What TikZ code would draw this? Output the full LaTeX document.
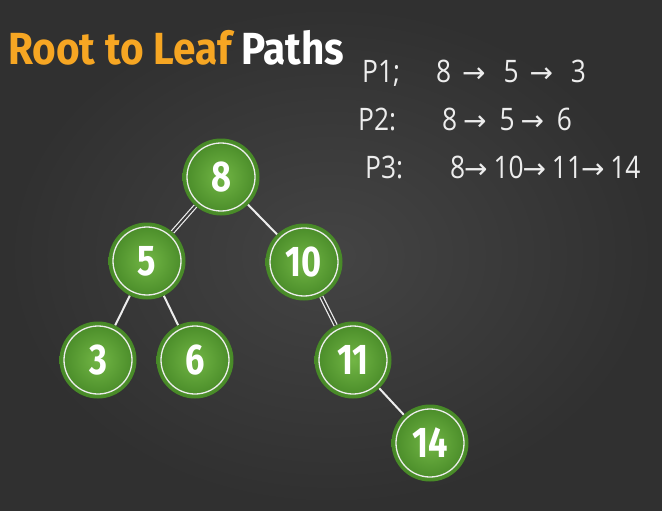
\documentclass[tikz,border=0pt]{standalone}
\usepackage{fontspec}
\setmainfont[FakeStretch=0.85]{Open Sans}
\newfontfamily\titlefont[FakeStretch=0.9]{Fira Sans}
\newfontfamily\numfont[FakeStretch=0.8]{Fira Sans}
\newfontfamily\arrowfont{DejaVu Sans}
\newcommand{\chalkarrow}[1][10pt]{\hspace{#1}{\arrowfont\fontsize{28}{28}\selectfont →}\hspace{#1}}

\definecolor{board}{HTML}{383838}
\definecolor{boardlight}{HTML}{444444}
\definecolor{leafgreen}{HTML}{72B645}
\definecolor{darkgreen}{HTML}{478927}
\definecolor{titleorange}{HTML}{F6A623}
\definecolor{chalk}{HTML}{EDEDED}

\begin{document}
\begin{tikzpicture}[x=1pt,y=-1pt,
  treenode/.style={circle, minimum size=77pt, inner sep=0pt,
    shading=radial, inner color=leafgreen, outer color=darkgreen,
    text=white, font=\numfont\bfseries\fontsize{43}{43}\selectfont,
    path picture={\draw[chalk, line width=1.3pt]
      (path picture bounding box.center) circle[radius=34pt];}},
  branch/.style={draw=chalk, line width=2pt},
  traced/.style={draw=chalk, line width=1.2pt, double=board, double distance=2pt},
  pathtext/.style={anchor=base west, text=chalk, inner sep=0pt,
    font=\fontsize{31}{31}\selectfont}
]
  % chalkboard
  \useasboundingbox (0,0) rectangle (662,511);
  \shade[inner color=boardlight, outer color=board!85!black] (0,0) rectangle (662,511);

  % title
  \node[anchor=base west, inner sep=0pt, font=\titlefont\bfseries\fontsize{45}{45}\selectfont]
    (title) at (8,65) {\textcolor{titleorange}{Root to Leaf} \textcolor{white}{Paths}};

  % the paths, written in chalk
  \node[pathtext] (p1) at (362,83) {P1;\hspace{36pt}8\chalkarrow[11pt] 5\chalkarrow[11pt] 3};
  \node[pathtext] (p2) at (358,130) {P2:\hspace{46pt}8\chalkarrow[6pt] 5\chalkarrow[6pt] 6};
  \node[pathtext] (p3) at (365,178) {P3:\hspace{47pt}8\chalkarrow[-1pt] 10\chalkarrow[-1pt] 11\chalkarrow[-1pt] 14};

  % tree
  \node[treenode] (n8)  at (221,177) {8};
  \node[treenode] (n5)  at (147,261) {5};
  \node[treenode] (n10) at (304,262) {10};
  \node[treenode] (n3)  at (98,360)  {3};
  \node[treenode] (n6)  at (195,360) {6};
  \node[treenode] (n11) at (353,360) {11};
  \node[treenode] (n14) at (430,443) {14};

  \draw[traced] (n8) -- (n5);
  \draw[branch] (n8) -- (n10);
  \draw[branch] (n5) -- (n3);
  \draw[branch] (n5) -- (n6);
  \draw[traced] (n10) -- (n11);
  \draw[branch] (n11) -- (n14);
\end{tikzpicture}
\end{document}
